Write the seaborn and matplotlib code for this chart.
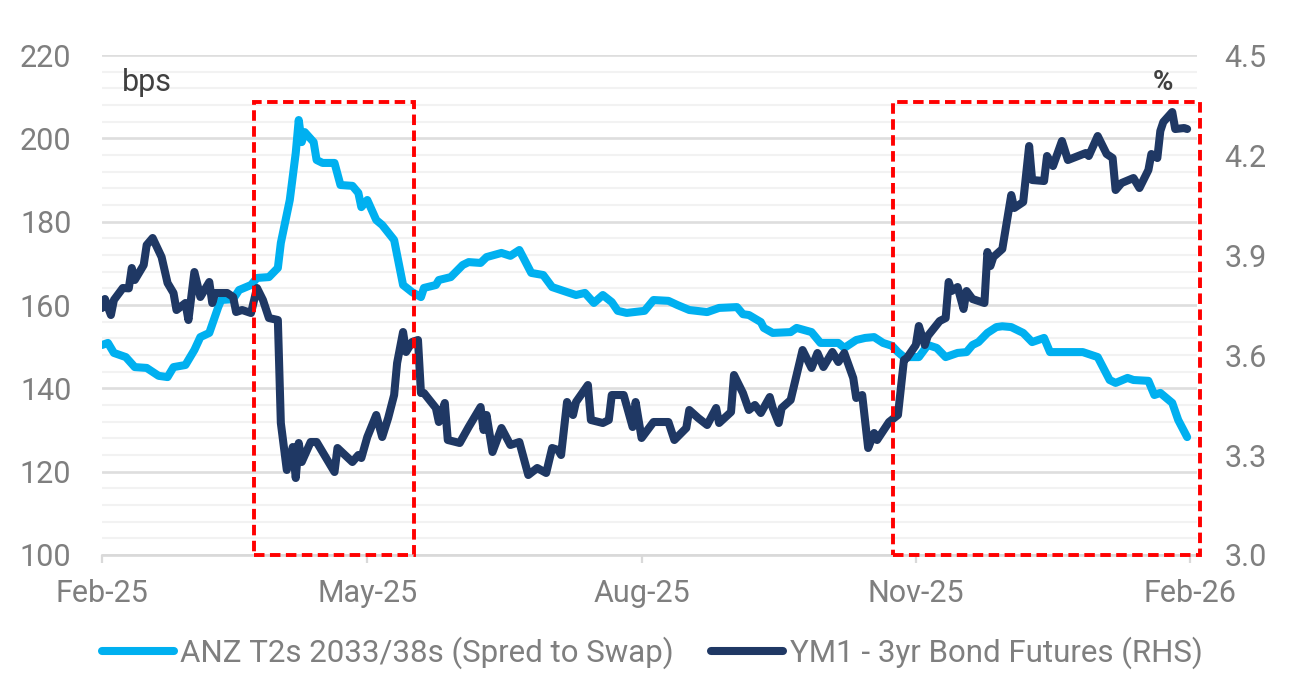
import pandas as pd
import numpy as np
import seaborn as sns
import matplotlib
matplotlib.use("Agg")
import matplotlib.pyplot as plt
import matplotlib.dates as mdates
import matplotlib.transforms as mtransforms
from matplotlib.patches import Rectangle
from matplotlib.lines import Line2D
from matplotlib.ticker import MultipleLocator

# ANZ T2 spread to swap (bps, left axis)
anz_dates = [
    "2025-02-03", "2025-02-05", "2025-02-07", "2025-02-11", "2025-02-14", "2025-02-18",
    "2025-02-22", "2025-02-25", "2025-02-27", "2025-03-03", "2025-03-06", "2025-03-08",
    "2025-03-11", "2025-03-14", "2025-03-15", "2025-03-19", "2025-03-21", "2025-03-25",
    "2025-03-27", "2025-03-31", "2025-04-03", "2025-04-04", "2025-04-07", "2025-04-09",
    "2025-04-10", "2025-04-11", "2025-04-12", "2025-04-15", "2025-04-16", "2025-04-18",
    "2025-04-22", "2025-04-24", "2025-04-28", "2025-04-30", "2025-05-01", "2025-05-03",
    "2025-05-06", "2025-05-08", "2025-05-12", "2025-05-15", "2025-05-18", "2025-05-21",
    "2025-05-22", "2025-05-26", "2025-05-27", "2025-05-31", "2025-06-04", "2025-06-06",
    "2025-06-10", "2025-06-12", "2025-06-17", "2025-06-20", "2025-06-23", "2025-06-27",
    "2025-07-01", "2025-07-04", "2025-07-09", "2025-07-12", "2025-07-15", "2025-07-18",
    "2025-07-21", "2025-07-24", "2025-07-26", "2025-07-29", "2025-08-04", "2025-08-07",
    "2025-08-12", "2025-08-15", "2025-08-19", "2025-08-25", "2025-08-29", "2025-09-04",
    "2025-09-06", "2025-09-08", "2025-09-12", "2025-09-13", "2025-09-16", "2025-09-22",
    "2025-09-24", "2025-09-29", "2025-10-02", "2025-10-08", "2025-10-10", "2025-10-14",
    "2025-10-17", "2025-10-20", "2025-10-23", "2025-10-26", "2025-10-28", "2025-10-30",
    "2025-11-04", "2025-11-07", "2025-11-10", "2025-11-13", "2025-11-17", "2025-11-20",
    "2025-11-22", "2025-11-24", "2025-11-27", "2025-11-30", "2025-12-02", "2025-12-05",
    "2025-12-09", "2025-12-12", "2025-12-16", "2025-12-18", "2025-12-24", "2025-12-29",
    "2026-01-03", "2026-01-07", "2026-01-09", "2026-01-13", "2026-01-15", "2026-01-20",
    "2026-01-22", "2026-01-24", "2026-01-28", "2026-01-30", "2026-02-02",
]
anz_bps = [
    150.4, 150.9, 148.5, 147.5, 145.1, 144.9,
    143.0, 142.7, 145.1, 145.6, 149.2, 152.3,
    153.3, 159.5, 161.2, 161.4, 163.6, 164.8,
    166.5, 166.7, 168.9, 174.9, 185.2, 196.5,
    204.4, 199.1, 201.5, 199.1, 194.8, 194.1,
    194.1, 188.8, 188.6, 186.9, 183.5, 185.2,
    180.4, 179.2, 175.6, 164.8, 163.1, 161.9,
    164.1, 164.8, 166.0, 166.7, 169.6, 170.3,
    170.1, 171.5, 172.5, 171.8, 173.2, 167.7,
    167.2, 164.3, 163.1, 162.4, 162.9, 160.5,
    162.4, 160.7, 158.6, 158.1, 158.6, 161.2,
    161.0, 160.0, 158.8, 158.3, 159.3, 159.5,
    157.8, 157.6, 155.9, 154.5, 153.3, 153.5,
    154.5, 153.5, 150.9, 150.9, 149.7, 151.6,
    152.1, 152.3, 150.9, 150.2, 148.7, 147.5,
    147.5, 150.4, 149.7, 147.5, 148.5, 148.7,
    150.4, 151.1, 153.3, 154.7, 154.9, 154.7,
    153.3, 151.1, 152.1, 148.7, 148.7, 148.7,
    147.5, 142.0, 141.3, 142.5, 142.0, 141.8,
    138.4, 138.9, 136.5, 132.4, 128.3,
]

# YM1 3yr bond futures (%, right axis)
ym1_dates = [
    "2025-02-03", "2025-02-04", "2025-02-06", "2025-02-07", "2025-02-10", "2025-02-12",
    "2025-02-13", "2025-02-14", "2025-02-17", "2025-02-18", "2025-02-20", "2025-02-23",
    "2025-02-25", "2025-02-27", "2025-02-28", "2025-03-03", "2025-03-04", "2025-03-06",
    "2025-03-08", "2025-03-11", "2025-03-12", "2025-03-13", "2025-03-17", "2025-03-19",
    "2025-03-20", "2025-03-22", "2025-03-25", "2025-03-27", "2025-03-29", "2025-03-31",
    "2025-04-03", "2025-04-04", "2025-04-06", "2025-04-08", "2025-04-09", "2025-04-10",
    "2025-04-11", "2025-04-14", "2025-04-16", "2025-04-22", "2025-04-23", "2025-04-28",
    "2025-04-30", "2025-05-01", "2025-05-03", "2025-05-06", "2025-05-08", "2025-05-10",
    "2025-05-12", "2025-05-13", "2025-05-15", "2025-05-16", "2025-05-18", "2025-05-20",
    "2025-05-21", "2025-05-22", "2025-05-26", "2025-05-27", "2025-05-29", "2025-05-30",
    "2025-06-03", "2025-06-06", "2025-06-10", "2025-06-11", "2025-06-12", "2025-06-14",
    "2025-06-17", "2025-06-20", "2025-06-23", "2025-06-26", "2025-06-29", "2025-07-02",
    "2025-07-04", "2025-07-06", "2025-07-07", "2025-07-09", "2025-07-11", "2025-07-12",
    "2025-07-16", "2025-07-17", "2025-07-21", "2025-07-23", "2025-07-24", "2025-07-28",
    "2025-07-31", "2025-08-01", "2025-08-03", "2025-08-07", "2025-08-12", "2025-08-14",
    "2025-08-18", "2025-08-19", "2025-08-22", "2025-08-25", "2025-08-28", "2025-08-29",
    "2025-09-02", "2025-09-03", "2025-09-06", "2025-09-08", "2025-09-10", "2025-09-12",
    "2025-09-15", "2025-09-16", "2025-09-18", "2025-09-19", "2025-09-22", "2025-09-26",
    "2025-09-29", "2025-10-01", "2025-10-03", "2025-10-06", "2025-10-08", "2025-10-10",
    "2025-10-13", "2025-10-14", "2025-10-16", "2025-10-18", "2025-10-20", "2025-10-21",
    "2025-10-25", "2025-10-28", "2025-10-30", "2025-10-31", "2025-11-03", "2025-11-04",
    "2025-11-06", "2025-11-07", "2025-11-11", "2025-11-13", "2025-11-14", "2025-11-15",
    "2025-11-17", "2025-11-19", "2025-11-20", "2025-11-22", "2025-11-26", "2025-11-27",
    "2025-11-28", "2025-11-29", "2025-12-02", "2025-12-05", "2025-12-06", "2025-12-09",
    "2025-12-11", "2025-12-12", "2025-12-16", "2025-12-17", "2025-12-19", "2025-12-22",
    "2025-12-24", "2025-12-30", "2025-12-31", "2026-01-03", "2026-01-06", "2026-01-08",
    "2026-01-09", "2026-01-11", "2026-01-15", "2026-01-17", "2026-01-20", "2026-01-21",
    "2026-01-23", "2026-01-24", "2026-01-25", "2026-01-28", "2026-01-29", "2026-02-01",
    "2026-02-02",
]
ym1_pct = [
    3.741, 3.768, 3.720, 3.765, 3.801, 3.800,
    3.861, 3.825, 3.870, 3.930, 3.951, 3.894,
    3.816, 3.786, 3.735, 3.756, 3.705, 3.849,
    3.774, 3.819, 3.756, 3.786, 3.786, 3.774,
    3.729, 3.735, 3.726, 3.801, 3.765, 3.711,
    3.705, 3.396, 3.255, 3.324, 3.231, 3.336,
    3.279, 3.339, 3.339, 3.249, 3.321, 3.279,
    3.300, 3.291, 3.354, 3.420, 3.354, 3.411,
    3.480, 3.576, 3.669, 3.609, 3.639, 3.645,
    3.486, 3.486, 3.441, 3.399, 3.456, 3.345,
    3.336, 3.384, 3.444, 3.375, 3.420, 3.309,
    3.381, 3.330, 3.339, 3.240, 3.261, 3.246,
    3.321, 3.315, 3.300, 3.459, 3.420, 3.459,
    3.510, 3.405, 3.396, 3.405, 3.480, 3.480,
    3.384, 3.459, 3.351, 3.399, 3.399, 3.345,
    3.381, 3.435, 3.411, 3.390, 3.441, 3.396,
    3.429, 3.540, 3.486, 3.435, 3.450, 3.426,
    3.474, 3.441, 3.396, 3.441, 3.465, 3.615,
    3.561, 3.606, 3.564, 3.609, 3.579, 3.606,
    3.531, 3.471, 3.480, 3.321, 3.366, 3.345,
    3.399, 3.420, 3.585, 3.591, 3.630, 3.687,
    3.630, 3.657, 3.702, 3.711, 3.819, 3.792,
    3.804, 3.738, 3.792, 3.768, 3.756, 3.909,
    3.867, 3.894, 3.918, 4.080, 4.041, 4.059,
    4.227, 4.125, 4.122, 4.197, 4.167, 4.242,
    4.185, 4.206, 4.197, 4.257, 4.203, 4.191,
    4.095, 4.116, 4.131, 4.101, 4.155, 4.203,
    4.191, 4.272, 4.299, 4.329, 4.278, 4.281,
    4.278,
]

anz_label = "ANZ T2s 2033/38s (Spred to Swap)"
ym1_label = "YM1 - 3yr Bond Futures (RHS)"
tick_dates = ["2025-02-03", "2025-05-03", "2025-08-03", "2025-11-03", "2026-02-03"]
# highlighted windows (start, end)
boxes = [("2025-03-26", "2025-05-18 17:00"), ("2025-10-26 08:00", "2026-02-06 07:00")]

light_blue = "#00B0F0"
navy = "#1F3864"
grey_txt = "#7F7F7F"

sns.set_style("white")
plt.rcParams["font.family"] = ["Roboto", "DejaVu Sans"]

df_anz = pd.DataFrame({"date": pd.to_datetime(anz_dates), "val": anz_bps})
df_ym1 = pd.DataFrame({"date": pd.to_datetime(ym1_dates), "val": ym1_pct})

fig = plt.figure(figsize=(12.89, 6.76), dpi=100)
ax = fig.add_axes([0.0791, 0.179, 0.8495, 0.7396])
ax2 = ax.twinx()

sns.lineplot(data=df_anz, x="date", y="val", ax=ax, color=light_blue, lw=5.8,
             legend=False, solid_capstyle="round", solid_joinstyle="round")
sns.lineplot(data=df_ym1, x="date", y="val", ax=ax2, color=navy, lw=5.8,
             legend=False, solid_capstyle="round", solid_joinstyle="round")

ax.set_xlim(pd.Timestamp("2025-02-03"), pd.Timestamp("2026-02-05 07:00"))
ax.set_ylim(100, 220)
ax2.set_ylim(3.0, 4.5)
ax.set_yticks(np.arange(100, 221, 20))
ax.yaxis.set_minor_locator(MultipleLocator(4))
ax2.set_yticks([3.0, 3.3, 3.6, 3.9, 4.2, 4.5])
ax2.yaxis.set_major_formatter(plt.FormatStrFormatter("%.1f"))

ax.set_xticks(pd.to_datetime(tick_dates))
ax.xaxis.set_major_formatter(mdates.DateFormatter("%b-%y"))

ax.grid(which="major", axis="y", color="#DEDEDE", lw=1.9)
ax.grid(which="minor", axis="y", color="#F2F2F2", lw=1.5)
ax.grid(which="major", axis="x", visible=False)
ax.set_axisbelow(True)

for a in (ax, ax2):
    a.set_xlabel("")
    a.set_ylabel("")
    for s in ("top", "left", "right", "bottom"):
        a.spines[s].set_visible(False)
ax.spines["bottom"].set_visible(True)
ax.spines["bottom"].set_color("#D9D9D9")
ax.spines["bottom"].set_linewidth(1.9)

ax.tick_params(axis="x", which="major", length=6, width=1.6, color="#D9D9D9",
               labelsize=22, labelcolor=grey_txt, pad=11, bottom=True)
ax.tick_params(axis="y", which="both", length=0, labelsize=22,
               labelcolor=grey_txt, pad=22)
ax2.tick_params(axis="y", length=0, labelsize=22, labelcolor=grey_txt, pad=20)

ax.text(0.018, 0.946, "bps", transform=ax.transAxes, fontsize=22,
        color="#404040", va="center", ha="left")
ax2.text(0.969, 0.946, "%", transform=ax2.transAxes, fontsize=20,
         fontweight="bold", color="#404040", va="center", ha="center")

# red dashed highlight boxes
trans = mtransforms.blended_transform_factory(ax2.transData, ax2.transAxes)
for start, end in boxes:
    x0 = mdates.date2num(pd.Timestamp(start))
    x1 = mdates.date2num(pd.Timestamp(end))
    rect = Rectangle((x0, 0), x1 - x0, 0.906, transform=trans, fill=False,
                     edgecolor="#FF0000", lw=2.8, linestyle=(0, (2.7, 1.4)),
                     clip_on=False, zorder=10)
    ax2.add_patch(rect)

handles = [Line2D([], [], color=light_blue, lw=5.8, solid_capstyle="round"),
           Line2D([], [], color=navy, lw=5.8, solid_capstyle="round")]
fig.legend(handles, [anz_label, ym1_label], loc="center", bbox_to_anchor=(0.506, 0.034),
           ncol=2, frameon=False, fontsize=22.5, labelcolor=grey_txt,
           handlelength=2.3, handletextpad=0.2, columnspacing=1.2)

fig.savefig("out.png", dpi=100)
